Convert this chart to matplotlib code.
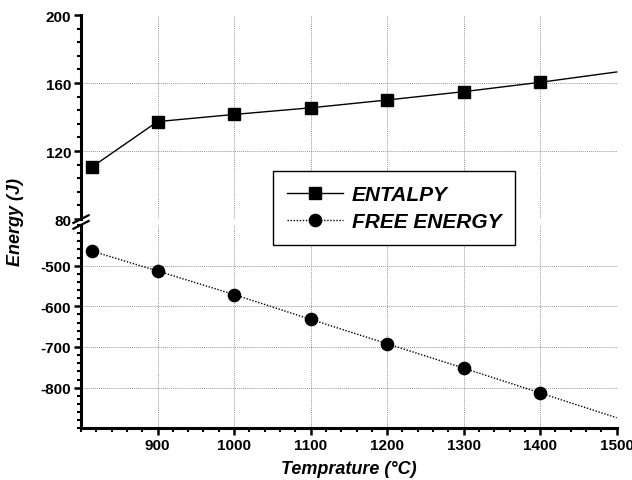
import numpy as np
import matplotlib.pyplot as plt
from matplotlib.ticker import MultipleLocator

plt.rcParams['font.family'] = ['Liberation Sans', 'DejaVu Sans']
plt.rcParams['font.weight'] = 'bold'
plt.rcParams['axes.unicode_minus'] = False

# measured points (the last value of each list is where the line ends, no marker)
temp = [814, 900, 1000, 1100, 1200, 1300, 1400, 1500]
enthalpy = [110.5, 137.3, 141.5, 145.4, 150.0, 154.9, 160.4, 166.5]
free_energy = [-464, -513, -571, -632, -692, -752, -813, -874]

x_ticks = [900, 1000, 1100, 1200, 1300, 1400, 1500]
top_ticks = [80, 120, 160, 200]
low_ticks = [-500, -600, -700, -800]

W, H = 632, 481
fig = plt.figure(figsize=(W / 100, H / 100), dpi=100)
left, right = 81 / W, 616.7 / W
ax_top = fig.add_axes([left, 1 - 220 / H, right - left, 204 / H])
ax_low = fig.add_axes([left, 1 - 429.3 / H, right - left, (429.3 - 226) / H])

n_pts = len(temp) - 1
ax_top.plot(temp, enthalpy, color='black', lw=1.0, ls='-', marker='s',
            ms=8.2, markevery=range(n_pts), label='ENTALPY', clip_on=False)
ax_low.plot(temp, free_energy, color='black', lw=1.0, ls=(0, (1, 1.2)),
            marker='o', ms=8.8, markevery=range(n_pts), label='FREE ENERGY',
            clip_on=False)

for ax in (ax_top, ax_low):
    ax.set_xlim(800, 1500)
    ax.set_xticks(x_ticks)
    ax.xaxis.set_minor_locator(MultipleLocator(20))
    for s in ('top', 'right'):
        ax.spines[s].set_visible(False)
    ax.spines['left'].set_linewidth(2.2)
    ax.spines['bottom'].set_linewidth(2.2)
    ax.tick_params(which='major', direction='out', length=5, width=1.8,
                   labelsize=11, pad=2)
    ax.tick_params(which='minor', direction='out', length=3, width=1.5)
    ax.grid(True, color='#999999', ls=(0, (1, 1)), lw=0.7)
    ax.set_axisbelow(True)
    ax.patch.set_alpha(0)
    xg = ax.get_xgridlines()
    xg[-1].set_visible(False)

ax_top.set_ylim(80, 200)
ax_top.set_yticks(top_ticks)
ax_top.yaxis.set_minor_locator(MultipleLocator(8))
ax_top.spines['bottom'].set_visible(False)
ax_top.tick_params(axis='x', which='both', bottom=False, labelbottom=False)
yg = ax_top.get_ygridlines()
yg[0].set_visible(False)
yg[-1].set_visible(False)

ax_low.set_ylim(-900, -400)
ax_low.set_yticks(low_ticks)
ax_low.yaxis.set_minor_locator(MultipleLocator(20))

# break marks on the left spine
d = 0.012
kw = dict(transform=fig.transFigure, color='black', lw=1.6, clip_on=False)
y_mid = 1 - 223 / H
for dy in (-0.006, 0.006):
    fig.add_artist(plt.Line2D([left - d, left + d],
                              [y_mid + dy - 0.008, y_mid + dy + 0.008], **kw))

ax_low.set_xlabel('Temprature (°C)', fontsize=13, fontstyle='italic',
                  fontweight='bold', labelpad=6)
fig.text(0.024, 1 - 222 / H, 'Energy (J)', rotation=90, ha='center',
         va='center', fontsize=13, fontstyle='italic', fontweight='bold')

handles = ax_top.get_legend_handles_labels()[0] + ax_low.get_legend_handles_labels()[0]
labels = ['ENTALPY', 'FREE ENERGY']
leg = fig.legend(handles, labels, loc='center',
                 bbox_to_anchor=(394 / W, 1 - 209 / H),
                 prop=dict(size=15, style='italic', weight='bold'),
                 fancybox=False, framealpha=1, edgecolor='black',
                 handlelength=2.7, borderpad=0.65, labelspacing=0.4,
                 handletextpad=0.4, borderaxespad=0)
leg.get_frame().set_linewidth(1.0)

fig.savefig('out.png', dpi=100)
